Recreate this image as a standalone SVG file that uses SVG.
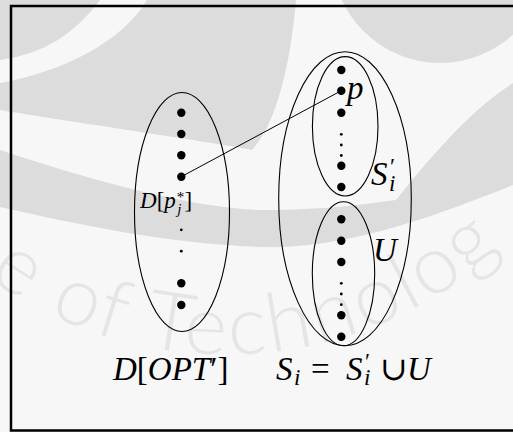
<svg xmlns="http://www.w3.org/2000/svg" width="513" height="432" viewBox="0 0 513 432">
  <defs>
    <style>
      .wm{fill:#dcdcdc}
      .wmt{fill:#e5e5e5;font-family:Lato,"Open Sans",sans-serif;font-weight:300;font-size:82px;letter-spacing:3px}
      .set{fill:none;stroke:#000;stroke-width:1.1}
      .pt{fill:#000}
      .lbl{font-family:"Liberation Serif","DejaVu Serif",serif;font-style:italic;fill:#000}
      .rm{font-style:normal}
      .edge{stroke:#000;stroke-width:1;fill:none}
    </style>
    <path id="sealArc" d="M -127 151 A 408 408 0 0 0 579 151"/>
  </defs>

  <!-- paper and faint seal in the background -->
  <rect x="0" y="0" width="513" height="432" fill="#f7f7f7"/>
  <g id="seal">
    <path class="wm" d="M0 0 H100 Q62 52 0 60 Z"/>
    <path class="wm" d="M147 0 H296 C290 70 275 125 252 150 C200 140 90 125 0 110 V83 C62 72 122 42 147 0 Z"/>
    <path class="wm" d="M0 150 C90 180 190 208 262 210 C330 210 372 203 396 200 C428 160 470 110 513 83 V185 C450 210 350 250 262 247 C170 244 80 225 0 207 Z"/>
    <circle class="wm" cx="440" cy="-45" r="108"/>
    <text class="wmt"><textPath href="#sealArc" startOffset="172">e of Technolog</textPath></text>
  </g>

  <!-- outer frame -->
  <rect x="11" y="6" width="540" height="424.5" fill="none" stroke="#000" stroke-width="2.5"/>

  <!-- connectors -->
  <g id="connectors">
    <line class="edge" x1="181.3" y1="176.7" x2="341.3" y2="90.7"/>
  </g>

  <!-- left set D[OPT'] -->
  <g id="node-dopt">
    <ellipse class="set" cx="182" cy="212" rx="47.5" ry="119.5"/>
    <circle class="pt" cx="181.3" cy="112.7" r="4.2"/>
    <circle class="pt" cx="181.3" cy="134" r="4.2"/>
    <circle class="pt" cx="181.3" cy="155.2" r="4.2"/>
    <circle class="pt" cx="181.3" cy="176.7" r="4.2"/>
    <circle class="pt" cx="181.3" cy="229.8" r="1.4"/>
    <circle class="pt" cx="181.3" cy="251.2" r="1.4"/>
    <circle class="pt" cx="181.3" cy="283.3" r="4.2"/>
    <circle class="pt" cx="181.3" cy="305" r="4.2"/>
    <text class="lbl" font-size="23" x="140" y="208">D<tspan class="rm">[</tspan>p<tspan class="rm" font-size="15" dx="1" dy="-6">*</tspan><tspan font-size="15" dx="-7" dy="12">j</tspan><tspan class="rm" dx="3" dy="-6">]</tspan></text>
    <text class="lbl" font-size="33" x="113" y="380">D<tspan class="rm">[</tspan>OPT<tspan class="rm">′]</tspan></text>
  </g>

  <!-- right set S_i -->
  <g id="node-si">
    <ellipse class="set" cx="345" cy="198.7" rx="66.3" ry="147"/>
    <text class="lbl" font-size="33" y="380"><tspan x="276">S</tspan><tspan font-size="23" x="294" y="385">i</tspan><tspan class="rm" x="311" y="380">=</tspan><tspan x="346">S</tspan><tspan class="rm" font-size="23" x="365" y="369">′</tspan><tspan font-size="23" x="364" y="385">i</tspan><tspan class="rm" x="380" y="380">∪</tspan><tspan x="407">U</tspan></text>
  </g>

  <!-- subset S'_i -->
  <g id="node-si-prime">
    <ellipse class="set" cx="345.2" cy="126.3" rx="32.8" ry="69.7"/>
    <circle class="pt" cx="341.3" cy="70" r="4.2"/>
    <circle class="pt" cx="341.3" cy="90.7" r="4.2"/>
    <circle class="pt" cx="341.3" cy="112.7" r="4.2"/>
    <circle class="pt" cx="341.3" cy="134.3" r="1.4"/>
    <circle class="pt" cx="341.3" cy="145" r="1.4"/>
    <circle class="pt" cx="341.3" cy="155.5" r="1.4"/>
    <circle class="pt" cx="341.3" cy="165.7" r="4.2"/>
    <circle class="pt" cx="341.3" cy="187" r="4.2"/>
    <text class="lbl" font-size="33" x="347" y="99">p</text>
    <text class="lbl" font-size="33" y="185"><tspan x="371">S</tspan><tspan class="rm" font-size="23" x="390" y="174">′</tspan><tspan font-size="23" x="389" y="191">i</tspan></text>
  </g>

  <!-- subset U -->
  <g id="node-u">
    <ellipse class="set" cx="343.5" cy="273.7" rx="31.2" ry="72"/>
    <circle class="pt" cx="341.3" cy="219.3" r="4.2"/>
    <circle class="pt" cx="341.3" cy="240.7" r="4.2"/>
    <circle class="pt" cx="341.3" cy="262" r="4.2"/>
    <circle class="pt" cx="341.3" cy="283.3" r="1.4"/>
    <circle class="pt" cx="341.3" cy="294" r="1.4"/>
    <circle class="pt" cx="341.3" cy="304.7" r="1.4"/>
    <circle class="pt" cx="341.3" cy="315.3" r="4.2"/>
    <circle class="pt" cx="341.3" cy="336.7" r="4.2"/>
    <text class="lbl" font-size="33" x="373" y="261">U</text>
  </g>
</svg>
